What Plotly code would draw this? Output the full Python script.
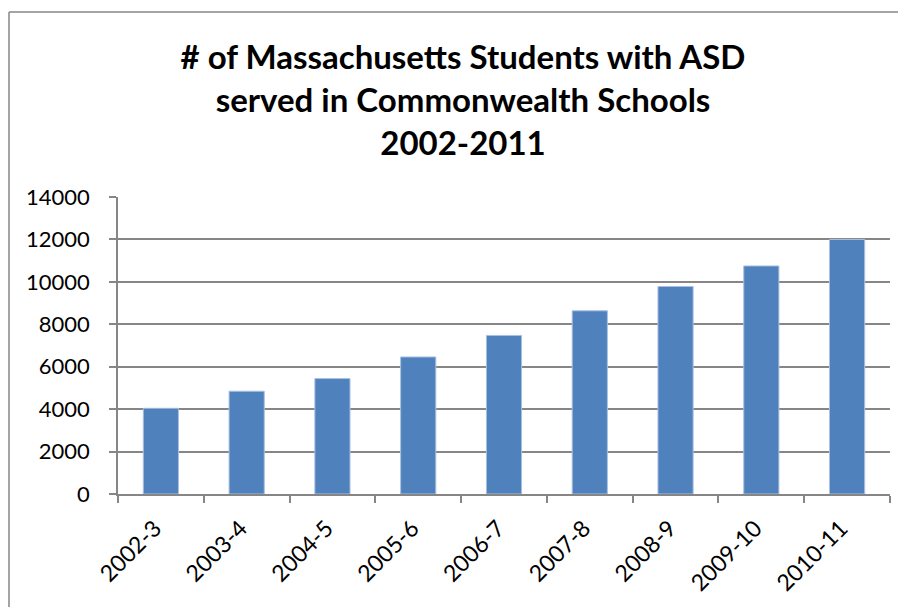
import plotly.graph_objects as go

categories = ["2002-3", "2003-4", "2004-5", "2005-6", "2006-7",
              "2007-8", "2008-9", "2009-10", "2010-11"]
students = [4040, 4845, 5440, 6460, 7475, 8635, 9780, 10750, 12000]
y_ticks = [0, 2000, 4000, 6000, 8000, 10000, 12000, 14000]
y_tick_labels = ["0", "2000", "4000", "6000", "8000", "10000", "12000", "14000"]
title_lines = ["# of Massachusetts Students with ASD",
               "served in Commonwealth Schools",
               "2002-2011"]

# page body has an 8px offset; layout numbers are in figure coordinates
W, H = 906, 607
ML, MR, MT, MB = 110, 24, 189, 121
GREY = "#868686"
FONT = "Lato"

fig = go.Figure(go.Bar(
    x=categories, y=students,
    marker=dict(color="#4F81BD", line=dict(color="#A9C0E0", width=1)),
    width=0.41,
))

pw = W - ML - MR
ph = H - MT - MB
frame_x = (1 - ML) / pw
frame_y = (H - MB - 4) / ph
fig.add_shape(type="line", xref="paper", yref="paper",
              x0=frame_x, x1=frame_x, y0=frame_y, y1=-2,
              line=dict(color=GREY, width=1.5))
fig.add_shape(type="line", xref="paper", yref="paper",
              x0=frame_x, x1=2, y0=frame_y, y1=frame_y,
              line=dict(color=GREY, width=1.5))

fig.update_layout(
    width=W, height=H,
    margin=dict(l=ML, r=MR, t=MT, b=MB, autoexpand=False),
    paper_bgcolor="white", plot_bgcolor="white",
    showlegend=False,
    font=dict(family=FONT, color="black"),
    title=dict(text="<br>".join(title_lines),
               font=dict(family=FONT, size=33, color="black", weight="bold"),
               x=455 / W, xanchor="center", y=1 - 61 / H, yanchor="middle",
               xref="container", yref="container"),
    xaxis=dict(type="category", showgrid=False, showline=True, linecolor=GREY,
               linewidth=1.5, ticks="outside", tickson="boundaries", ticklen=7,
               tickcolor=GREY, tickwidth=1.5, tickangle=-45,
               ticklabelstandoff=10, ticklabelshift=-6,
               tickfont=dict(family=FONT, size=23, color="black")),
    yaxis=dict(range=[0, 14000], tickvals=y_ticks, ticktext=y_tick_labels,
               showgrid=True,
               gridcolor=GREY, gridwidth=1.5, showline=True, linecolor=GREY,
               linewidth=1.5, ticks="outside", ticklen=7, tickcolor=GREY,
               tickwidth=1.5, zeroline=False, ticklabelstandoff=15,
               tickfont=dict(family=FONT, size=22, color="black")),
)

fig.write_html("out.html")
